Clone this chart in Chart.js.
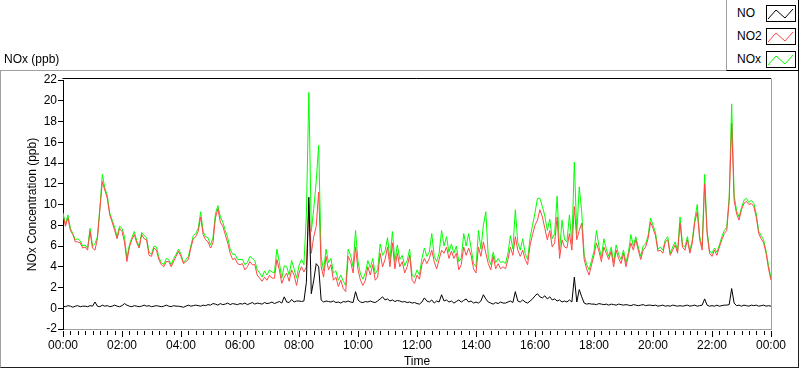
<!DOCTYPE html>
<html lang="en">
<head>
  <meta charset="UTF-8">
  <title>NOx (ppb)</title>
  <script src="https://cdn.jsdelivr.net/npm/chart.js"></script>
  <style>
    body {
      margin: 0;
      background: #fff;
      font-family: 'Liberation Sans', Arial, sans-serif;
      font-size: 12px;
      color: #000;
    }

    .wrap {
      position: relative;
      width: 800px;
      height: 369px;
      overflow: hidden;
    }

    .outer {
      position: absolute;
      left: 0;
      top: 70px;
      width: 797px;
      height: 296px;
      border-top: 1px solid #a0a0a0;
      border-left: 1px solid #a0a0a0;
      border-right: 1px solid #202020;
      border-bottom: 1px solid #202020;
    }

    canvas {
      position: absolute;
      left: 0;
      top: 0;
    }

    .title {
      position: absolute;
      left: 4px;
      top: 52px;
      line-height: 14px;
    }

    .legend {
      position: absolute;
      left: 726px;
      top: -1px;
      width: 71px;
      height: 70px;
      background: #fff;
      border-top: 1px solid #a0a0a0;
      border-left: 1px solid #a0a0a0;
      border-right: 1px solid #000;
      border-bottom: 1px solid #000;
    }

    .legend .item {
      position: absolute;
      left: 10px;
      line-height: 14px;
    }

    .legend svg {
      position: absolute;
      left: 39px;
      width: 30px;
      height: 17px;
    }
  </style>
</head>
<body>
  <div class="wrap">
    <div class="outer"></div>
    <canvas id="chart" width="800" height="369"></canvas>
    <div class="title">NOx (ppb)</div>
    <div class="legend" id="legend"></div>
  </div>

  <script>
    // 5-minute readings, 00:00 -> 24:00, one row per hour
    const no2Values = [
      9.0, 7.9, 8.7, 7.5, 7.1, 6.4, 6.4, 6.3, 5.8, 5.9, 5.6, 7.4,
      5.8, 5.6, 6.7, 9.5, 12.2, 11.4, 10.6, 9.0, 8.3, 7.5, 6.7, 7.7,
      7.4, 6.4, 4.5, 5.9, 6.6, 7.1, 6.3, 5.8, 7.1, 6.7, 6.6, 5.1,
      5.0, 5.8, 5.6, 4.7, 4.2, 4.0, 4.5, 4.5, 4.0, 4.5, 5.0, 5.5,
      5.0, 4.3, 4.5, 4.7, 5.8, 6.7, 6.9, 7.4, 8.8, 7.1, 6.6, 6.4,
      5.8, 6.3, 8.7, 9.6, 8.3, 7.9, 7.1, 6.3, 5.3, 4.7, 4.8, 4.3,
      4.2, 4.3, 3.7, 4.0, 4.5, 4.2, 4.2, 3.2, 2.9, 2.6, 3.0, 2.7,
      3.2, 2.9, 2.9, 4.7, 3.7, 2.4, 3.0, 3.4, 2.6, 3.7, 3.2, 2.2,
      3.4, 4.0, 3.5, 4.0, 10.1, 5.3, 6.9, 7.9, 11.2, 4.0, 3.0, 5.0,
      3.7, 4.2, 2.7, 3.0, 2.1, 2.7, 1.9, 1.6, 5.0, 4.5, 3.4, 5.9,
      3.7, 2.7, 2.2, 2.7, 4.0, 3.2, 4.2, 2.7, 3.0, 5.3, 4.0, 4.7,
      5.9, 4.0, 6.3, 3.8, 5.3, 4.0, 4.5, 3.4, 4.0, 5.1, 2.7, 2.4,
      3.2, 2.8, 4.2, 4.8, 4.3, 4.8, 5.6, 4.5, 3.8, 4.7, 5.6, 5.3,
      5.9, 4.8, 5.5, 4.8, 5.3, 3.7, 4.2, 5.9, 5.1, 5.8, 5.1, 3.8,
      3.4, 5.9, 5.0, 6.4, 5.3, 4.3, 3.7, 5.0, 3.8, 4.3, 3.8, 4.0,
      3.8, 4.7, 5.9, 5.1, 6.9, 5.6, 5.0, 5.6, 4.7, 4.2, 6.1, 7.1,
      8.0, 8.5, 9.5, 8.8, 7.7, 6.6, 7.5, 5.9, 6.3, 8.8, 4.8, 6.6,
      5.9, 5.8, 7.2, 5.6, 9.8, 6.6, 7.5, 8.2, 4.7, 3.8, 3.2, 4.2,
      5.1, 6.3, 5.5, 4.5, 5.9, 5.3, 4.7, 5.5, 4.0, 5.6, 4.8, 4.3,
      5.3, 4.0, 5.1, 6.3, 5.6, 6.6, 5.6, 4.7, 5.6, 5.9, 6.7, 8.3,
      7.7, 7.0, 5.5, 5.6, 5.3, 6.4, 6.6, 5.1, 5.6, 6.1, 5.3, 8.2,
      5.9, 5.6, 6.6, 5.3, 6.3, 8.3, 9.3, 6.6, 5.6, 12.0, 7.2, 5.3,
      5.0, 5.6, 5.1, 5.9, 6.6, 7.2, 7.5, 10.4, 17.8, 10.4, 9.1, 8.5,
      9.5, 10.1, 10.3, 10.0, 10.1, 9.8, 8.8, 7.2, 6.7, 6.3, 5.3, 3.8,
      2.7
    ];

    const noValues = [
      0.2, 0.15, 0.25, 0.2, 0.1, 0.2, 0.25, 0.15, 0.2, 0.2, 0.15, 0.25,
      0.2, 0.6, 0.2, 0.15, 0.3, 0.2, 0.25, 0.15, 0.2, 0.3, 0.2, 0.15,
      0.25, 0.45, 0.3, 0.2, 0.15, 0.25, 0.2, 0.15, 0.2, 0.3, 0.2, 0.25,
      0.15, 0.2, 0.25, 0.2, 0.15, 0.2, 0.3, 0.2, 0.15, 0.25, 0.2, 0.2,
      0.15, 0.1, 0.2, 0.3, 0.2, 0.25, 0.3, 0.25, 0.2, 0.3, 0.25, 0.35,
      0.3, 0.45, 0.4, 0.3, 0.45, 0.35, 0.4, 0.5, 0.35, 0.45, 0.4, 0.35,
      0.45, 0.4, 0.5, 0.35, 0.45, 0.55, 0.4, 0.5, 0.45, 0.4, 0.55, 0.45,
      0.5, 0.6, 0.45, 0.55, 0.65, 0.5, 1.1, 0.6, 0.55, 0.85, 0.6, 0.7,
      0.7, 0.65, 0.7, 2.5, 10.7, 1.4, 2.7, 4.3, 4.0, 0.8, 0.6, 0.7,
      0.65, 0.6, 0.7, 0.55, 0.6, 0.5, 0.65, 0.6, 0.7, 0.6, 0.55, 1.6,
      0.8, 0.6, 0.55, 0.65, 0.6, 0.7, 0.6, 0.55, 0.7, 0.9, 1.1, 0.8,
      0.9, 0.7, 0.8, 0.65, 0.75, 0.7, 0.6, 0.65, 0.55, 0.6, 0.5, 0.55,
      0.45, 0.4, 0.6, 1.0, 0.7, 0.6, 0.8, 0.5, 0.7, 0.6, 1.3, 0.7,
      0.8, 0.6, 0.7, 0.5, 0.65, 0.8, 0.6, 0.75, 0.9, 0.6, 0.7, 0.5,
      0.6, 0.5, 0.7, 1.3, 0.9, 0.6, 0.5, 0.4, 0.55, 0.45, 0.6, 0.5,
      0.5, 0.6, 0.7, 0.55, 1.6, 0.7, 0.6, 0.8, 0.6, 0.5, 0.7, 0.9,
      1.2, 1.4, 1.1, 1.0, 1.2, 0.9, 1.1, 0.8, 0.9, 0.7, 0.8, 0.6,
      0.7, 0.6, 0.8, 0.6, 3.0, 0.6, 1.8, 1.1, 0.5, 0.4, 0.45, 0.4,
      0.4, 0.35, 0.45, 0.4, 0.35, 0.4, 0.3, 0.4, 0.35, 0.3, 0.4, 0.35,
      0.3, 0.35, 0.3, 0.25, 0.35, 0.3, 0.25, 0.3, 0.35, 0.25, 0.3, 0.3,
      0.25, 0.3, 0.2, 0.25, 0.3, 0.2, 0.25, 0.2, 0.3, 0.25, 0.2, 0.25,
      0.2, 0.25, 0.3, 0.2, 0.25, 0.3, 0.2, 0.25, 0.3, 0.9, 0.3, 0.2,
      0.25, 0.2, 0.3, 0.2, 0.25, 0.3, 0.3, 0.35, 1.9, 0.5, 0.25, 0.3,
      0.2, 0.3, 0.25, 0.2, 0.3, 0.25, 0.3, 0.2, 0.25, 0.3, 0.2, 0.25,
      0.2
    ];

    const noxValues = [
      9.2, 8.1, 9.0, 7.7, 7.2, 6.6, 6.7, 6.5, 6.0, 6.1, 5.8, 7.7,
      6.0, 6.2, 6.9, 9.7, 12.9, 11.6, 10.9, 9.2, 8.5, 7.8, 6.9, 7.9,
      7.7, 6.9, 4.8, 6.1, 6.8, 7.4, 6.5, 6.0, 7.3, 7.0, 6.8, 5.4,
      5.2, 6.0, 5.9, 4.9, 4.4, 4.2, 4.8, 4.7, 4.2, 4.8, 5.2, 5.7,
      5.2, 4.4, 4.7, 5.0, 6.0, 7.0, 7.2, 7.7, 9.3, 7.4, 6.9, 6.8,
      6.1, 6.8, 9.1, 9.9, 8.8, 8.3, 7.5, 6.8, 5.7, 5.2, 5.2, 4.7,
      4.7, 4.7, 4.2, 4.4, 5.0, 4.8, 4.6, 3.7, 3.4, 3.0, 3.6, 3.2,
      3.7, 3.5, 3.4, 5.7, 4.4, 2.9, 4.1, 4.0, 3.2, 4.6, 3.8, 2.9,
      4.1, 4.7, 4.2, 9.0, 20.8, 7.4, 9.6, 12.2, 15.7, 5.0, 3.6, 5.7,
      4.4, 4.8, 3.4, 3.6, 2.7, 3.2, 2.6, 2.2, 5.7, 5.1, 4.0, 7.5,
      4.5, 3.3, 2.8, 3.4, 4.6, 3.9, 4.8, 3.3, 3.7, 6.2, 5.1, 5.5,
      6.8, 4.7, 7.4, 4.5, 6.1, 4.7, 5.1, 4.1, 4.6, 5.7, 3.2, 3.0,
      3.7, 3.2, 4.8, 5.8, 5.0, 5.4, 7.2, 5.0, 4.5, 5.3, 7.5, 6.0,
      6.9, 5.4, 6.2, 5.3, 6.0, 4.5, 4.8, 7.2, 6.0, 7.2, 5.8, 4.3,
      4.0, 7.5, 5.7, 8.0, 9.3, 4.9, 4.2, 5.4, 4.4, 4.8, 4.4, 4.5,
      4.3, 5.3, 7.0, 5.7, 9.5, 6.3, 5.6, 6.7, 5.3, 4.7, 6.8, 8.0,
      9.2, 10.6, 10.6, 9.8, 8.9, 7.5, 8.6, 6.7, 7.2, 10.8, 5.6, 8.5,
      6.6, 6.4, 9.0, 6.2, 14.1, 7.2, 11.7, 9.3, 5.2, 4.2, 3.7, 4.6,
      5.5, 7.5, 6.0, 4.9, 6.7, 5.7, 5.0, 5.9, 4.4, 6.1, 5.2, 4.7,
      5.6, 4.4, 5.4, 7.1, 6.0, 6.9, 5.9, 5.0, 6.0, 6.2, 7.0, 8.7,
      8.0, 7.3, 5.7, 5.9, 5.6, 6.6, 6.9, 5.3, 5.9, 6.4, 5.5, 8.8,
      6.1, 5.9, 6.9, 5.5, 6.6, 8.6, 10.0, 6.9, 5.9, 12.9, 7.5, 5.5,
      5.3, 5.8, 5.4, 6.1, 6.9, 7.5, 7.8, 10.8, 19.7, 10.9, 9.4, 8.8,
      9.7, 10.4, 10.6, 10.2, 10.4, 10.1, 9.1, 7.4, 7.0, 6.6, 5.5, 4.1,
      2.9
    ];

    // minutes after midnight for each reading
    const minutes = no2Values.map((v, i) => i * 5);

    const seriesNames = ['NO', 'NO2', 'NOx'];
    const seriesColors = ['#000000', '#ff4646', '#00ff00'];
    const seriesData = [noValues, no2Values, noxValues];

    const tickFont = { family: "'Liberation Sans Narrow', 'Liberation Sans', Arial", size: 12 };
    const labelFont = { family: "'Liberation Sans', Arial", size: 12 };

    function hhmm(m) {
      const h = Math.floor(m / 60) % 24;
      const mm = m % 60;
      return String(h).padStart(2, '0') + ':' + String(mm).padStart(2, '0');
    }

    // plot frame + x tick marks (long every 2 h, short every 15 min)
    const framePlugin = {
      id: 'frame',
      afterDraw(chart) {
        const { ctx, chartArea: a, scales } = chart;
        ctx.save();
        ctx.lineWidth = 1;
        ctx.strokeStyle = '#000';
        ctx.beginPath();
        ctx.moveTo(a.left - 0.5, a.top - 1.5);
        ctx.lineTo(a.right, a.top - 1.5);
        ctx.stroke();
        ctx.strokeStyle = '#a0a0a0';
        ctx.beginPath();
        ctx.moveTo(a.right + 0.5, a.top - 1.5);
        ctx.lineTo(a.right + 0.5, a.bottom);
        ctx.stroke();

        ctx.strokeStyle = '#000';
        scales.x.ticks.forEach(t => {
          const px = Math.round(scales.x.getPixelForValue(t.value)) + 0.5;
          const len = t.value % 120 === 0 ? 6 : 4;
          ctx.beginPath();
          ctx.moveTo(px, a.bottom + 2);
          ctx.lineTo(px, a.bottom + 2 + len);
          ctx.stroke();
        });
        ctx.restore();
      }
    };

    new Chart(document.getElementById('chart'), {
      type: 'line',
      data: {
        datasets: seriesNames.map((name, k) => ({
          label: name,
          data: seriesData[k].map((v, i) => ({ x: minutes[i], y: v })),
          borderColor: seriesColors[k],
          borderWidth: 1,
          pointRadius: 0,
          tension: 0,
          fill: false
        }))
      },
      options: {
        responsive: false,
        animation: false,
        devicePixelRatio: 1,
        layout: { padding: { left: 0, top: 80, right: 29, bottom: 0 } },
        plugins: {
          legend: { display: false },
          tooltip: { enabled: false }
        },
        scales: {
          x: {
            type: 'linear',
            min: 0,
            max: 1440,
            afterFit(scale) { scale.height = 40; },
            border: { color: '#a0a0a0' },
            grid: { drawOnChartArea: false, drawTicks: true, tickLength: 8, color: 'rgba(0,0,0,0)' },
            ticks: {
              stepSize: 15,
              autoSkip: false,
              maxRotation: 0,
              padding: 1,
              color: '#000',
              font: tickFont,
              callback: v => (v % 120 === 0 ? hhmm(v) : '')
            },
            title: {
              display: true,
              text: 'Time',
              color: '#000',
              font: labelFont,
              padding: { top: 0, bottom: 0 }
            }
          },
          y: {
            min: -2,
            max: 22,
            afterFit(scale) { scale.width = 63; },
            border: { color: '#000' },
            grid: { drawOnChartArea: false, drawTicks: true, tickLength: 5, tickColor: '#000' },
            ticks: {
              stepSize: 2,
              padding: 1,
              color: '#000',
              font: tickFont
            },
            title: {
              display: true,
              text: 'NOx Concentration (ppb)',
              color: '#000',
              font: labelFont,
              padding: { top: 25, bottom: 0 }
            }
          }
        }
      },
      plugins: [framePlugin]
    });

    // legend box, top right
    const legend = document.getElementById('legend');
    const rowTops = [6, 29, 52];
    seriesNames.forEach((name, k) => {
      const item = document.createElement('div');
      item.className = 'item';
      item.style.top = rowTops[k] + 'px';
      item.textContent = name;
      legend.appendChild(item);
      const svg = document.createElementNS('http://www.w3.org/2000/svg', 'svg');
      svg.style.top = (rowTops[k] - 1) + 'px';
      svg.innerHTML = '<rect x="0.5" y="0.5" width="29" height="16" fill="#fff" stroke="#000"/>' +
        '<polyline points="2,14 10,5 19,13 27,4" fill="none" stroke="' + seriesColors[k] + '" stroke-width="1"/>';
      legend.appendChild(svg);
    });
  </script>
</body>
</html>
